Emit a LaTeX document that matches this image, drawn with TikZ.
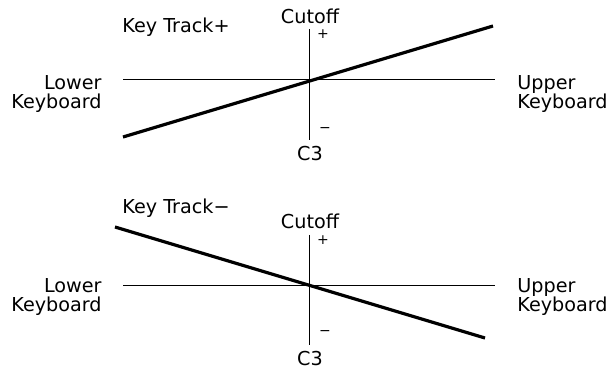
\documentclass[tikz,border=0pt]{standalone}
\usepackage{fontspec}
\setmainfont{DejaVu Sans}
\usepackage{tikz}

\begin{document}
\begin{tikzpicture}[x=0.5pt, y=-0.5pt,
    lbl/.style={font=\fontsize{9.6}{9.5}\selectfont, inner sep=0pt},
    sign/.style={font=\fontsize{7}{7}\selectfont, inner sep=0pt},
    axis/.style={line width=0.5pt},
    track/.style={line width=1.6pt}]

\useasboundingbox (0,0) rectangle (610,368);

% Key Track +
\coordinate (xl1) at (123,80);
\coordinate (xr1) at (495,80);
\coordinate (yt1) at (309,29);
\coordinate (yb1) at (309,140);
\coordinate (ta1) at (123,137);
\coordinate (tb1) at (493,26);

\node[lbl, anchor=base west] (kt1) at (122,33) {Key Track+};
\node[lbl, anchor=base] (cut1) at (310,24) {Cutoff};
\node[lbl, anchor=base] (c31) at (310,161) {C3};
\node[lbl, align=right, anchor=east] (low1) at (102,94) {Lower\\Keyboard};
\node[lbl, align=left, anchor=west] (up1) at (517,94) {Upper\\Keyboard};
\node[sign] (pl1) at (323,34) {+};
\node[sign] (mi1) at (325,130) {−};

\draw[axis] (xl1) -- (xr1);
\draw[axis] (yt1) -- (yb1);
\draw[track] (ta1) -- (tb1);

% Key Track -
\coordinate (xl2) at (123,286);
\coordinate (xr2) at (495,286);
\coordinate (yt2) at (309,235);
\coordinate (yb2) at (309,345);
\coordinate (ta2) at (115,227);
\coordinate (tb2) at (485,338);

\node[lbl, anchor=base west] (kt2) at (122,214) {Key Track−};
\node[lbl, anchor=base] (cut2) at (310,229) {Cutoff};
\node[lbl, anchor=base] (c32) at (310,365) {C3};
\node[lbl, align=right, anchor=east] (low2) at (102,297) {Lower\\Keyboard};
\node[lbl, align=left, anchor=west] (up2) at (517,297) {Upper\\Keyboard};
\node[sign] (pl2) at (323,240) {+};
\node[sign] (mi2) at (325,333) {−};

\draw[axis] (xl2) -- (xr2);
\draw[axis] (yt2) -- (yb2);
\draw[track] (ta2) -- (tb2);

\end{tikzpicture}
\end{document}
